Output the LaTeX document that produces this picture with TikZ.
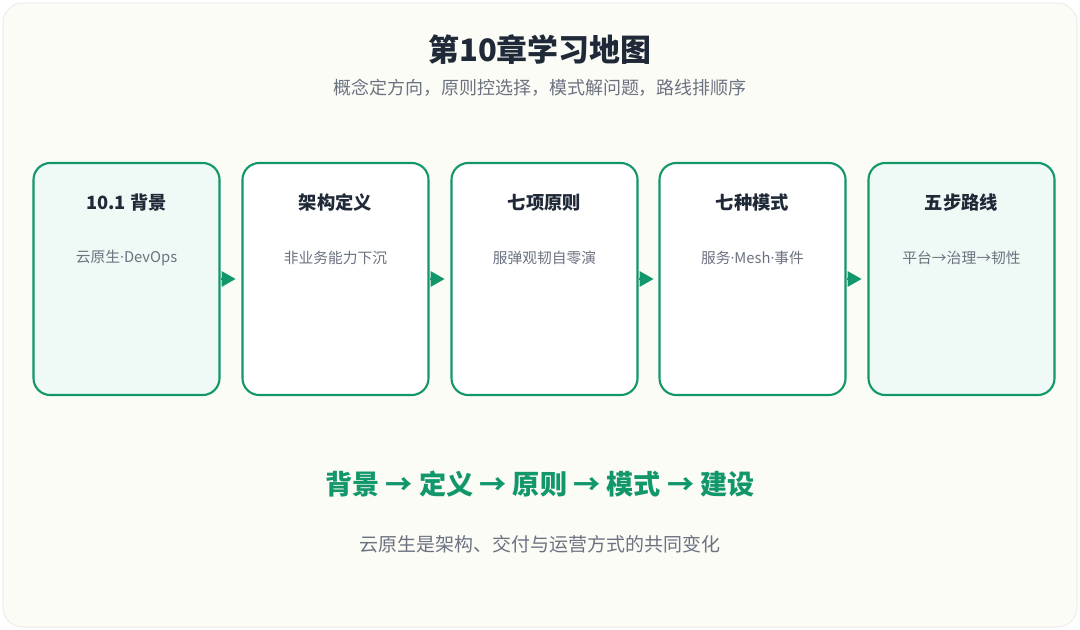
\documentclass[tikz,border=0pt]{standalone}
\usepackage{fontspec}
\setmainfont{Noto Sans CJK SC}
\newfontfamily\latinfont{Open Sans}
\usetikzlibrary{arrows.meta,positioning}
\definecolor{bggray}{HTML}{FCFCF7}
\definecolor{framegray}{HTML}{E3E3E3}
\definecolor{stepgreen}{HTML}{12976B}
\definecolor{lightfill}{HTML}{EFF9F5}
\definecolor{titleink}{HTML}{1F2937}
\definecolor{subink}{HTML}{6B7280}
\newcommand{\mdot}{{\latinfont ·}}
\tikzset{
    >=Triangle,
    stage/.style={draw=stepgreen,line width=1.5pt,rounded corners=12pt,minimum width=4.65cm,minimum height=5.8cm,fill=white},
    stage_hi/.style={stage,fill=lightfill},
    stage_title/.style={font=\fontsize{13}{15}\selectfont\bfseries,text=titleink},
    stage_text/.style={font=\fontsize{10.5}{12}\selectfont,text=subink},
    link/.style={-{Triangle[length=10pt,width=11pt]},stepgreen,line width=1.5pt},
}
\begin{document}
\begin{tikzpicture}[x=0.025cm,y=-0.025cm]
    \useasboundingbox (0,0) rectangle (1080,630);
    \draw[framegray,fill=bggray,rounded corners=14pt] (3,3) rectangle (1077,627);

    \node[font=\fontsize{22}{26}\selectfont\bfseries,text=titleink] (title) at (540,50) {第10章学习地图};
    \node[font=\fontsize{12.8}{15}\selectfont,text=subink] (subtitle) at (540,88) {概念定方向，原则控选择，模式解问题，路线排顺序};

    % stages
    \node[stage_hi] (s1) at (126.5,279) {};
    \node[stage]    (s2) at (335.5,279) {};
    \node[stage]    (s3) at (544.5,279) {};
    \node[stage]    (s4) at (752.5,279) {};
    \node[stage_hi] (s5) at (961.5,279) {};

    \foreach \n/\t/\s in {s1/10.1 背景/云原生\mdot DevOps,
                          s2/架构定义/非业务能力下沉,
                          s3/七项原则/服弹观韧自零演,
                          s4/七种模式/服务\mdot Mesh\mdot 事件,
                          s5/五步路线/平台→治理→韧性}{
        \node[stage_title] at ([yshift=-41*0.025cm]\n.north) {\t};
        \node[stage_text]  at ([yshift=-96*0.025cm]\n.north) {\s};
    }

    \foreach \a/\b in {s1/s2,s2/s3,s3/s4,s4/s5}
        \draw[link] (\a.east) -- ++(15,0);

    \node[font=\fontsize{19.3}{23}\selectfont\bfseries,text=stepgreen] (flow) at (540,484) {背景 → 定义 → 原则 → 模式 → 建设};
    \node[font=\fontsize{13.5}{16}\selectfont,text=subink] (note) at (540,544) {云原生是架构、交付与运营方式的共同变化};
\end{tikzpicture}
\end{document}
